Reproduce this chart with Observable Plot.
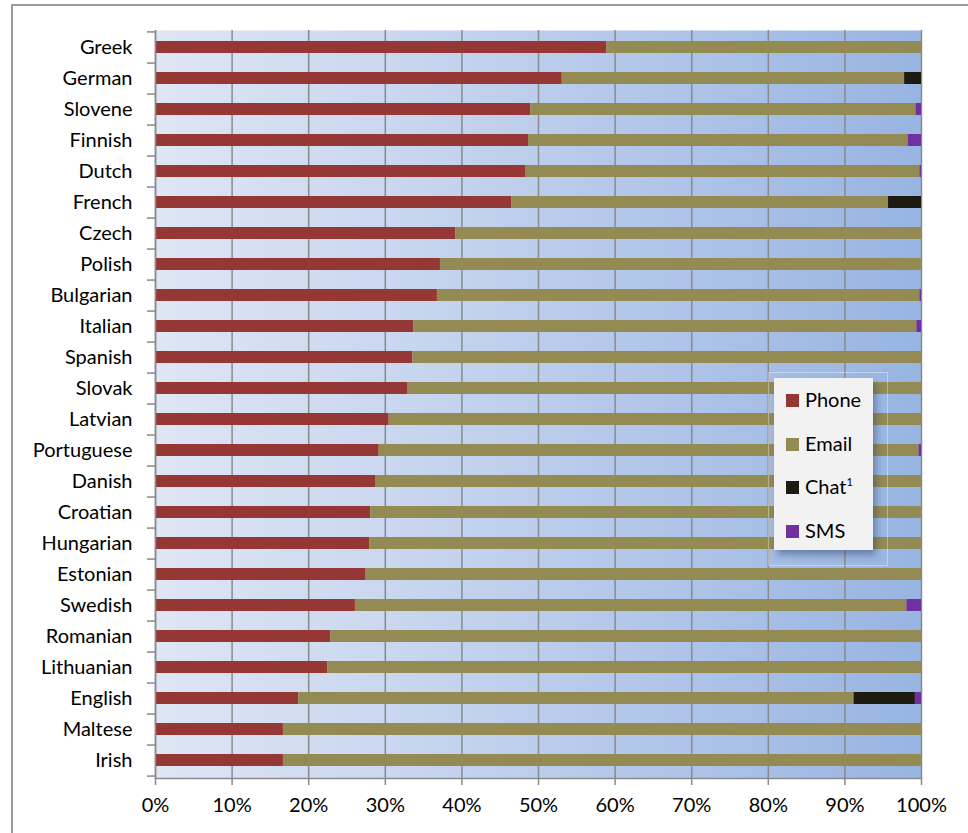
<!DOCTYPE html>
<html>
<head>
<meta charset="utf-8">
<script src="https://cdn.jsdelivr.net/npm/d3@7"></script>
<script src="https://cdn.jsdelivr.net/npm/@observablehq/plot@0.6"></script>
<style>
  html, body { margin: 0; padding: 0; background: #fff; }
  #wrap { position: relative; width: 968px; height: 833px; overflow: hidden; font-family: Lato, "Open Sans", sans-serif; }
  #frame { position: absolute; left: 11px; top: 4px; width: 1000px; height: 900px; border-left: 2px solid #9a9a9a; border-top: 2px solid #9a9a9a; }
  #chart { position: absolute; left: 0; top: 0; }
  #legend-halo { position: absolute; left: 768px; top: 372px; width: 118px; height: 192px; border: 1px solid rgba(255,255,255,0.35); }
  #legend { position: absolute; left: 774px; top: 378px; width: 99px; height: 172px; background: #f2f2f2; box-shadow: 3px 5px 7px rgba(40,60,100,0.45); }
  .item { position: absolute; left: 12px; font-size: 20px; color: #000; line-height: 20px; }
  .sw { display: inline-block; width: 13px; height: 13px; margin-right: 6px; vertical-align: 0px; }
  sup { font-size: 11px; vertical-align: 8px; line-height: 0; }
</style>
</head>
<body>
<div id="wrap">
  <div id="frame"></div>
  <div id="chart"></div>
  <div id="legend-halo"></div>
  <div id="legend"></div>
</div>
<script>
const languages = ["Greek","German","Slovene","Finnish","Dutch","French","Czech","Polish","Bulgarian","Italian","Spanish","Slovak","Latvian","Portuguese","Danish","Croatian","Hungarian","Estonian","Swedish","Romanian","Lithuanian","English","Maltese","Irish"];
const phone = [58.9,53.1,49.0,48.7,48.3,46.5,39.2,37.2,36.8,33.7,33.6,32.9,30.5,29.2,28.8,28.1,28.0,27.5,26.1,22.9,22.5,18.7,16.7,16.7];
const email = [41.1,44.7,50.3,49.6,51.5,49.2,60.8,62.8,63.0,65.7,66.4,67.1,69.5,70.5,71.2,71.9,72.0,72.5,72.0,77.1,77.5,72.5,83.3,83.3];
const chat  = [0,2.2,0,0,0,4.3,0,0,0,0,0,0,0,0,0,0,0,0,0,0,0,8.0,0,0];
const sms   = [0,0,0.7,1.7,0.2,0,0,0,0.2,0.6,0,0,0,0.3,0,0,0,0,1.9,0,0,0.8,0,0];
const seriesNames = ["Phone","Email","Chat","SMS"];
const seriesLabels = ["Phone","Email","Chat<sup>1</sup>","SMS"];
const seriesColors = ["#953735","#948a54","#1d1b10","#7030a0"];
const xTicks = [0,10,20,30,40,50,60,70,80,90,100];

const seriesValues = [phone, email, chat, sms];
const rows = [];
languages.forEach((lang, i) => {
  seriesNames.forEach((s, k) => {
    rows.push({language: lang, series: s, value: seriesValues[k][i]});
  });
});

const W = 968, H = 833, mTop = 30, mBottom = 55, mLeft = 155, mRight = 47;
const step = (H - mTop - mBottom) / languages.length;

const chart = Plot.plot({
  width: W, height: H,
  marginTop: mTop, marginBottom: mBottom, marginLeft: mLeft, marginRight: mRight,
  style: {fontFamily: "Lato, 'Open Sans', sans-serif", fontSize: "20px", color: "#000", background: "transparent"},
  x: {domain: [0, 100], ticks: xTicks, tickFormat: d => d + "%", label: null},
  y: {domain: languages, paddingInner: 0.6, paddingOuter: 0.3, label: null},
  color: {domain: seriesNames, range: seriesColors},
  marks: [
    Plot.frame({fill: "url(#bgGrad)", stroke: null}),
    Plot.gridX({ticks: xTicks, stroke: "#8a8a8a", strokeOpacity: 1, strokeWidth: 1.5}),
    Plot.barX(rows, Plot.stackX({y: "language", x: "value", fill: "series", order: seriesNames})),
    Plot.frame({anchor: "bottom", stroke: "#8a8a8a", strokeWidth: 1.5}),
    Plot.axisX({ticks: xTicks, tickFormat: d => d + "%", tickSize: 7, tickPadding: 12, stroke: "#8a8a8a", strokeWidth: 1.5, fill: "#000", fontSize: 20}),
    Plot.axisY({tickSize: 0, tickPadding: 23, fill: "#000", fontSize: 20}),
    Plot.axisY({tickSize: 8, tickFormat: () => "", dy: step / 2, stroke: "#8a8a8a", strokeWidth: 1.5}),
    Plot.axisY({ticks: [languages[0]], tickSize: 8, tickFormat: () => "", dy: -step / 2, stroke: "#8a8a8a", strokeWidth: 1.5}),
    Plot.ruleX([0], {stroke: "#8a8a8a", strokeWidth: 1.5})
  ]
});

// horizontal gradient for the plot area background
const svgNS = "http://www.w3.org/2000/svg";
const defs = document.createElementNS(svgNS, "defs");
const grad = document.createElementNS(svgNS, "linearGradient");
grad.setAttribute("id", "bgGrad");
grad.setAttribute("x1", "0"); grad.setAttribute("x2", "1");
grad.setAttribute("y1", "0"); grad.setAttribute("y2", "0");
[["0%", "#dfe6f4"], ["50%", "#bccdec"], ["100%", "#98b4e1"]].forEach(([o, c]) => {
  const s = document.createElementNS(svgNS, "stop");
  s.setAttribute("offset", o); s.setAttribute("stop-color", c);
  grad.appendChild(s);
});
defs.appendChild(grad);
chart.insertBefore(defs, chart.firstChild);
document.getElementById("chart").appendChild(chart);

// legend
const legend = document.getElementById("legend");
seriesNames.forEach((s, k) => {
  const d = document.createElement("div");
  d.className = "item";
  d.style.top = (11 + k * 43.5) + "px";
  d.innerHTML = `<span class="sw" style="background:${seriesColors[k]}"></span>${seriesLabels[k]}`;
  legend.appendChild(d);
});
</script>
</body>
</html>
